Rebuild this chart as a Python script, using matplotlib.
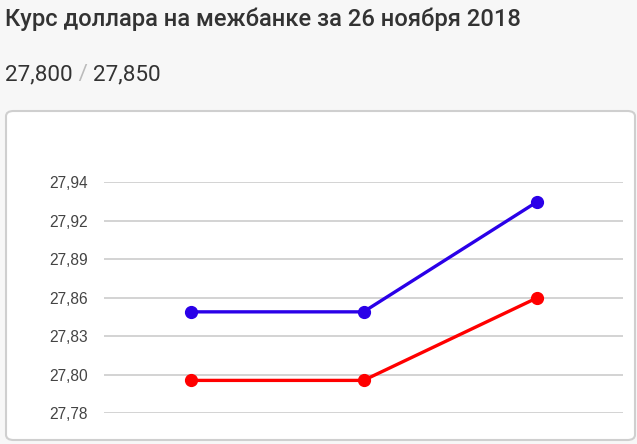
import numpy as np
import matplotlib
matplotlib.use("Agg")
import matplotlib.pyplot as plt
from matplotlib.patches import FancyBboxPatch

# data
points = [0, 1, 2]
buy = [27.80, 27.80, 27.86]
sell = [27.85, 27.85, 27.93]
title = "Курс доллара на межбанке за 26 ноября 2018"
buy_now = "27,800"
sell_now = "27,850"

# axis range (chart library picks 7 even ticks)
y_lo = 27.776
y_hi = 27.9445
n_ticks = 7

W, H = 637, 444
fig = plt.figure(figsize=(W / 100, H / 100), dpi=100)
fig.patch.set_facecolor("#f7f7f7")

# white card with rounded border
card = FancyBboxPatch((6 / W, 4 / H), 629 / W, 329 / H,
                      boxstyle="round,pad=0,rounding_size=0.012",
                      transform=fig.transFigure, facecolor="white",
                      edgecolor="#cfcfcf", linewidth=1.5, zorder=-5)
fig.patches.append(card)

# header texts
fig.text(5 / W, 1 - 26 / H, title, fontsize=17.1, fontweight=500,
         family=["Roboto", "DejaVu Sans"], color="#333333")
t1 = fig.text(5 / W, 1 - 80 / H, buy_now, fontsize=16.2,
              family=["Roboto", "DejaVu Sans"], color="#333333")
t2 = fig.text(0, 0, " / ", fontsize=16.2, family=["Roboto", "DejaVu Sans"],
              color="#bbbbbb")
t3 = fig.text(0, 0, sell_now, fontsize=16.2, family=["Roboto", "DejaVu Sans"],
              color="#333333")
fig.canvas.draw()
r = fig.canvas.get_renderer()
bb = t1.get_window_extent(r)
t2.set_position((bb.x1 / W, 1 - 80 / H))
bb2 = t2.get_window_extent(r)
t3.set_position((bb2.x1 / W, 1 - 80 / H))

ax = fig.add_axes([104 / W, 1 - 413.3 / H, 519 / W, 231 / H])
ax.set_zorder(2)
ax.set_facecolor("none")
ticks = np.linspace(y_lo, y_hi, n_ticks)
ax.set_yticks(ticks)
ax.set_yticklabels([("%.2f" % t).replace(".", ",") for t in ticks],
                   family=["Liberation Sans", "DejaVu Sans"], fontsize=11.2,
                   color="#444444")
ax.tick_params(axis="y", length=0, pad=11.5)
ax.set_xticks([])
ax.set_ylim(y_lo, y_hi)
ax.set_xlim(-0.5, 2.5)
for s in ax.spines.values():
    s.set_visible(False)
ax.grid(axis="y", color="#cccccc", linewidth=1.2)
ax.set_axisbelow(True)

ax.plot(points, sell, color="#2a00e8", linewidth=2.4, marker="o",
        markersize=8.5, clip_on=False)
ax.plot(points, buy, color="#ff0000", linewidth=2.4, marker="o",
        markersize=8.5, clip_on=False)

fig.savefig("out.png", dpi=100, facecolor=fig.get_facecolor())
